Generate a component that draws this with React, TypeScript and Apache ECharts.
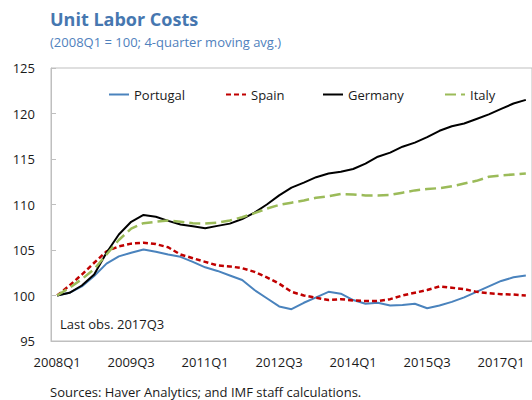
import React, { useEffect, useRef } from "react";
import * as echarts from "echarts";

const quarters: string[] = [];
for (let y = 2008; y <= 2017; y++) {
  for (let q = 1; q <= 4; q++) {
    if (y === 2017 && q === 4) break;
    quarters.push(`${y}Q${q}`);
  }
}

const portugal = [
  100, 100.3, 101.0, 102.15, 103.5, 104.3, 104.7, 105.05, 104.8, 104.5,
  104.25, 103.7, 103.1, 102.7, 102.2, 101.7, 100.6, 99.7, 98.8, 98.5,
  99.2, 99.8, 100.4, 100.2, 99.5, 99.1, 99.2, 98.9, 98.95, 99.1,
  98.6, 98.9, 99.3, 99.8, 100.4, 101.0, 101.6, 102.0, 102.2,
];
const spain = [
  100, 101.1, 102.3, 103.6, 104.85, 105.4, 105.7, 105.8, 105.65, 105.3,
  104.5, 104.1, 103.7, 103.3, 103.2, 103.0, 102.6, 102.0, 101.3, 100.4,
  100.0, 99.75, 99.5, 99.6, 99.45, 99.4, 99.4, 99.6, 100.0, 100.3,
  100.6, 101.0, 100.85, 100.7, 100.4, 100.25, 100.15, 100.1, 100.0,
];
const germany = [
  100, 100.3, 101.1, 102.3, 104.7, 106.7, 108.1, 108.85, 108.65, 108.2,
  107.8, 107.6, 107.4, 107.65, 107.9, 108.4, 109.1, 110.0, 111.0, 111.85,
  112.4, 113.0, 113.4, 113.6, 113.9, 114.5, 115.25, 115.7, 116.35, 116.8,
  117.4, 118.1, 118.6, 118.9, 119.4, 119.9, 120.5, 121.1, 121.5,
];
const italy = [
  100, 100.85, 101.8, 102.9, 104.5, 106.1, 107.35, 107.95, 108.1, 108.25,
  108.1, 107.95, 107.9, 108.0, 108.25, 108.6, 109.05, 109.55, 109.95, 110.2,
  110.45, 110.75, 110.9, 111.15, 111.1, 111.0, 111.0, 111.05, 111.3, 111.55,
  111.7, 111.8, 112.0, 112.3, 112.6, 113.05, 113.2, 113.3, 113.4,
];

const seriesNames = ["Portugal", "Spain", "Germany", "Italy"];
const legendLefts = [103, 220, 317, 439];

const FONT = "'Open Sans', 'Noto Sans', sans-serif";

export default function App() {
  const ref = useRef<HTMLDivElement>(null);
  useEffect(() => {
    if (!ref.current) return;
    const chart = echarts.init(ref.current, undefined, { renderer: "svg" });
    const textColor = "#1a1a1a";
    const axisColor = "#bfbfbf";
    chart.setOption({
      animation: false,
      textStyle: { fontFamily: FONT },
      grid: {
        left: 51,
        top: 68,
        right: -6.5,
        bottom: 59,
        show: true,
        borderColor: axisColor,
        borderWidth: 1,
      },
      legend: seriesNames.map((n, i) => ({
        data: [n],
        left: legendLefts[i],
        top: 83,
        itemWidth: 20,
        itemHeight: 14,
        itemStyle: { opacity: 0 },
        textStyle: { fontSize: 13, color: textColor, fontFamily: FONT },
      })),
      xAxis: {
        type: "category",
        data: quarters,
        boundaryGap: true,
        axisLine: { lineStyle: { color: axisColor } },
        axisTick: { inside: true, length: 5, interval: 5, lineStyle: { color: axisColor } },
        axisLabel: { interval: 5, fontSize: 13, color: textColor, margin: 14, fontFamily: FONT },
        splitLine: { show: false },
      },
      yAxis: {
        type: "value",
        min: 95,
        max: 125,
        interval: 5,
        axisLine: { show: true, lineStyle: { color: axisColor } },
        axisTick: { show: true, inside: true, length: 5, lineStyle: { color: axisColor } },
        axisLabel: { fontSize: 13, color: textColor, margin: 16, fontFamily: FONT },
        splitLine: { show: false },
      },
      graphic: [
        {
          type: "text",
          left: 50,
          top: 10,
          style: {
            text: "Unit Labor Costs",
            fontSize: 18,
            fontWeight: "bold",
            fill: "#4677b0",
            fontFamily: FONT,
          },
        },
        {
          type: "text",
          left: 50,
          top: 35,
          style: {
            text: "(2008Q1 = 100; 4-quarter moving avg.)",
            fontSize: 13,
            fill: "#4f81bd",
            fontFamily: FONT,
          },
        },
        {
          type: "text",
          left: 60,
          top: 317,
          style: { text: "Last obs. 2017Q3", fontSize: 13, fill: textColor, fontFamily: FONT },
        },
        {
          type: "text",
          left: 50,
          top: 385,
          style: {
            text: "Sources: Haver Analytics; and IMF staff calculations.",
            fontSize: 13,
            fill: textColor,
            fontFamily: FONT,
          },
        },
      ],
      series: [
        {
          name: "Portugal",
          type: "line",
          data: portugal,
          symbol: "none",
          lineStyle: { color: "#4a83bd", width: 2 },
          itemStyle: { color: "#4a83bd" },
        },
        {
          name: "Spain",
          type: "line",
          data: spain,
          symbol: "none",
          lineStyle: { color: "#c00000", width: 2.5, type: [5, 3] },
          itemStyle: { color: "#c00000" },
        },
        {
          name: "Germany",
          type: "line",
          data: germany,
          symbol: "none",
          lineStyle: { color: "#000000", width: 2 },
          itemStyle: { color: "#000000" },
        },
        {
          name: "Italy",
          type: "line",
          data: italy,
          symbol: "none",
          lineStyle: { color: "#9bbb59", width: 2.5, type: [11, 5] },
          itemStyle: { color: "#9bbb59" },
        },
      ],
    });
    return () => chart.dispose();
  }, []);
  return <div ref={ref} style={{ width: 532, height: 400, position: "absolute", left: 0, top: 0 }} />;
}
